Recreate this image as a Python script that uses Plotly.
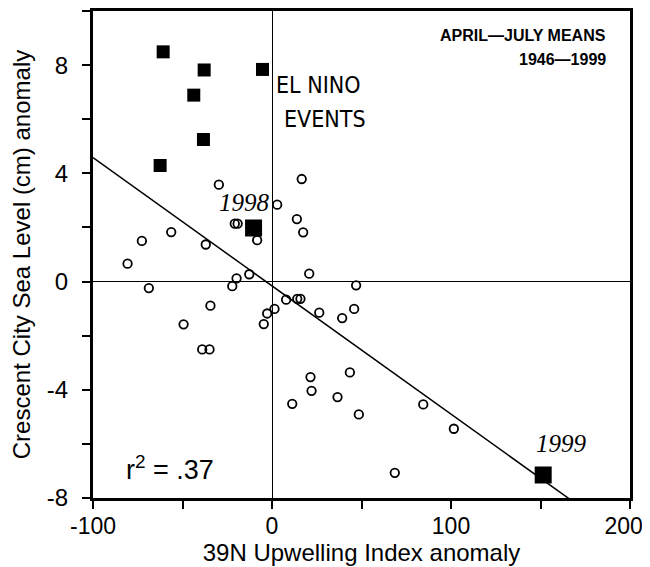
import plotly.graph_objects as go

# Open circles: normal years (upwelling anomaly, sea-level anomaly)
normal_x = [-29.7, 16.6, 2.9, 13.9, 17.4, -20.8, -19.2, -8.3, -56.3, -72.7, -37.0, -80.7,
            -12.7, -19.8, 20.8, -68.8, -22.2, 47.0, -34.4, -49.4, 7.9, 14.1, 15.9, 1.4,
            -2.7, -4.6, 26.4, 39.2, 45.9, -39.0, -34.9, 21.5, 22.1, 43.5, 36.6, 11.3,
            48.5, 84.5, 101.6, 68.6]
normal_y = [3.58, 3.79, 2.84, 2.31, 1.82, 2.14, 2.14, 1.53, 1.83, 1.50, 1.37, 0.66,
            0.27, 0.12, 0.29, -0.24, -0.17, -0.14, -0.89, -1.58, -0.67, -0.64, -0.64, -1.01,
            -1.18, -1.57, -1.15, -1.35, -1.01, -2.51, -2.51, -3.53, -4.04, -3.36, -4.27, -4.52,
            -4.91, -4.54, -5.44, -7.07]

# Filled squares: El Nino events
nino_x = [-60.8, -37.9, -5.3, -43.7, -38.3, -62.5]
nino_y = [8.49, 7.82, 7.84, 6.89, 5.25, 4.29]

# Highlighted years
year_labels = ["1998", "1999"]
year_x = [-10.3, 151.5]
year_y = [1.98, -7.15]

# Regression fit
fit_intercept = -0.16
fit_slope = -0.0474
fit_x = [-100, 200]
fit_y = [fit_intercept + fit_slope * v for v in fit_x]

x_tickvals = [-100, 0, 100, 200]
x_ticktext = ["-100", "0", "100", "200\u00a0\u00a0"]
y_tickvals = [-8, -4, 0, 4, 8]
y_ticktext = ["-8", "-4", "0", "4", "8"]

x_title = "39N Upwelling Index anomaly"
y_title = "Crescent City Sea Level (cm) anomaly"

fig = go.Figure()
fig.add_trace(go.Scatter(x=fit_x, y=fit_y, mode="lines",
                         line=dict(color="black", width=1.5), hoverinfo="skip"))
fig.add_trace(go.Scatter(x=normal_x, y=normal_y, mode="markers",
                         marker=dict(symbol="circle-open", size=8.5, color="black",
                                     line=dict(width=1.8, color="black"))))
fig.add_trace(go.Scatter(x=nino_x, y=nino_y, mode="markers",
                         marker=dict(symbol="square", size=13, color="black")))
fig.add_trace(go.Scatter(x=year_x, y=year_y, mode="markers",
                         marker=dict(symbol="square", size=17, color="black")))

sans = "Liberation Sans, Arial, Helvetica, sans-serif"
serif = "Liberation Serif, Times New Roman, serif"
cond = "DejaVu Sans Condensed, Liberation Sans Narrow, sans-serif"

annotations = [
    dict(x=187.5, y=9.11, xanchor="right", yanchor="middle", showarrow=False,
         text="<b>APRIL\u2014JULY MEANS</b>", font=dict(family=sans, size=16, color="black")),
    dict(x=187.5, y=8.22, xanchor="right", yanchor="middle", showarrow=False,
         text="<b>1946\u20141999</b>", font=dict(family=sans, size=16, color="black")),
    dict(x=1.0, y=7.26, xanchor="left", yanchor="middle", showarrow=False,
         text="EL NINO", font=dict(family=cond, size=23, color="black")),
    dict(x=5.5, y=6.0, xanchor="left", yanchor="middle", showarrow=False,
         text="EVENTS", font=dict(family=cond, size=23, color="black")),
    dict(x=-15.4, y=2.94, xanchor="center", yanchor="middle", showarrow=False,
         text="<i>" + year_labels[0] + "</i>", font=dict(family=serif, size=25, color="black")),
    dict(x=161.7, y=-6.0, xanchor="center", yanchor="middle", showarrow=False,
         text="<i>" + year_labels[1] + "</i>", font=dict(family=serif, size=25, color="black")),
    dict(x=-82.5, y=-6.89, xanchor="left", yanchor="middle", showarrow=False,
         text="r<sup>2</sup> = .37", font=dict(family=sans, size=27, color="black")),
]

fig.update_layout(
    width=650, height=567,
    margin=dict(l=85, r=28, t=3, b=77, autoexpand=False),
    paper_bgcolor="white", plot_bgcolor="white",
    showlegend=False,
    font=dict(family=sans, color="black"),
    annotations=annotations,
    xaxis=dict(range=[-100, 200], tickvals=x_tickvals, ticktext=x_ticktext, automargin=False,
               ticks="outside", ticklen=8, tickwidth=2, tickcolor="black", showgrid=False,
               showline=True, linewidth=3, linecolor="black", mirror=True,
               zeroline=True, zerolinewidth=1, zerolinecolor="black",
               ticklabeloverflow="allow", ticklabelstandoff=-3,
               minor=dict(dtick=50, tick0=-100, ticks="outside", ticklen=8, tickwidth=2,
                          tickcolor="black", showgrid=False),
               tickfont=dict(family=sans, size=23, color="black"),
               title=dict(text=x_title, font=dict(family=sans, size=24, color="black"), standoff=2)),
    yaxis=dict(range=[-8, 10], tickvals=y_tickvals, ticktext=y_ticktext, automargin=False,
               ticks="outside", ticklen=8, tickwidth=2, tickcolor="black", showgrid=False,
               showline=True, linewidth=3, linecolor="black", mirror=True,
               zeroline=True, zerolinewidth=1, zerolinecolor="black",
               ticklabelstandoff=9,
               minor=dict(dtick=2, tick0=0, ticks="outside", ticklen=8, tickwidth=2,
                          tickcolor="black", showgrid=False),
               tickfont=dict(family=sans, size=24, color="black"),
               title=dict(text=y_title, font=dict(family=sans, size=24, color="black"), standoff=16)),
)

fig.write_html("out.html")
